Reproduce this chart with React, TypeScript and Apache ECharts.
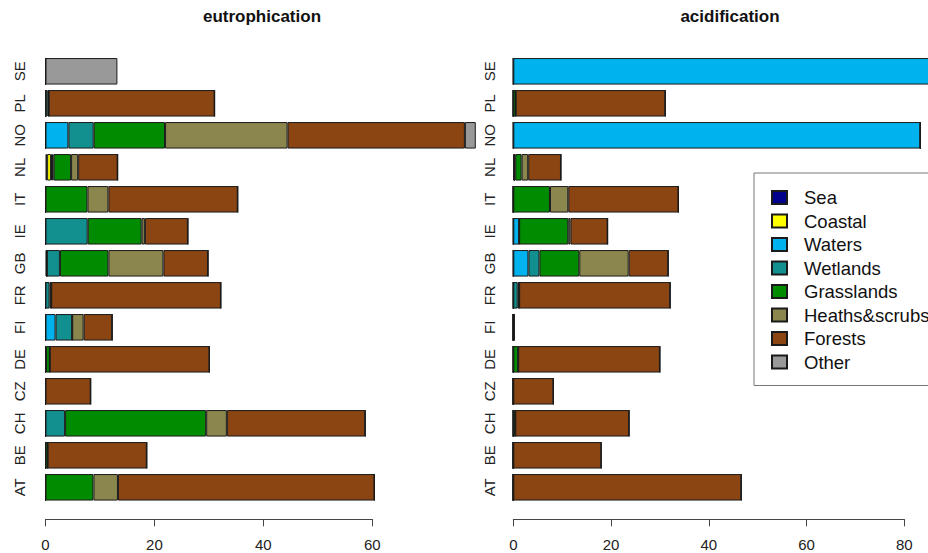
import React, { useEffect, useRef } from "react";
import * as echarts from "echarts";

const categories = ["AT", "BE", "CH", "CZ", "DE", "FI", "FR", "GB", "IE", "IT", "NL", "NO", "PL", "SE"];
const habitats = ["Sea", "Coastal", "Waters", "Wetlands", "Grasslands", "Heaths&scrubs", "Forests", "Other"];
const habitatColors = ["#00008B", "#FFFF00", "#00B2EE", "#12908F", "#008B00", "#8B864E", "#8B4513", "#999999"];
const xTicksLeft = { min: 0, max: 60, interval: 20 };
const xTicksRight = { min: 0, max: 80, interval: 20 };

// eutrophication (order: AT .. SE)
const eutSea = [0, 0, 0, 0, 0, 0, 0, 0.25, 0, 0, 0.3, 0, 0, 0];
const eutCoastal = [0, 0, 0, 0, 0, 0, 0, 0, 0, 0, 0.7, 0, 0, 0];
const eutWaters = [0, 0, 0, 0, 0, 1.85, 0, 0, 0, 0, 0.2, 4.2, 0, 0];
const eutWetlands = [0, 0, 3.6, 0, 0.1, 3.05, 0.75, 2.4, 7.75, 0, 0.3, 4.65, 0.35, 0];
const eutGrasslands = [8.8, 0.4, 25.9, 0, 0.7, 0, 0.3, 8.9, 9.9, 7.7, 3.2, 13.1, 0.25, 0];
const eutHeaths = [4.5, 0, 3.8, 0, 0, 2.1, 0, 10.1, 0.6, 3.85, 1.3, 22.5, 0, 0];
const eutForests = [47.1, 18.2, 25.4, 8.3, 29.3, 5.25, 31.15, 8.2, 7.9, 23.75, 7.25, 32.55, 30.45, 0];
const eutOther = [0, 0, 0, 0, 0, 0, 0, 0, 0, 0, 0, 2.0, 0, 13.2];

// acidification (order: AT .. SE)
const acidSea = [0, 0, 0, 0, 0, 0, 0, 0, 0, 0, 0.2, 0, 0, 0];
const acidCoastal = [0, 0, 0, 0, 0, 0, 0, 0, 0, 0, 0, 0, 0, 0];
const acidWaters = [0, 0, 0, 0, 0, 0, 0, 3.1, 1.2, 0, 0, 83.3, 0, 86];
const acidWetlands = [0, 0, 0, 0, 0, 0, 0.9, 2.25, 0, 0, 0.2, 0, 0, 0];
const acidGrasslands = [0, 0, 0.4, 0, 1.0, 0, 0.3, 8.15, 10.05, 7.5, 1.3, 0, 0.5, 0];
const acidHeaths = [0, 0, 0, 0, 0, 0, 0, 10.1, 0.45, 3.75, 1.35, 0, 0, 0];
const acidForests = [46.65, 18.0, 23.3, 8.2, 29.0, 0.2, 30.9, 8.1, 7.6, 22.55, 6.7, 0, 30.6, 0];
const acidOther = [0, 0, 0, 0, 0, 0, 0, 0, 0, 0, 0, 0, 0, 0];

const eutData = [eutSea, eutCoastal, eutWaters, eutWetlands, eutGrasslands, eutHeaths, eutForests, eutOther];
const acidData = [acidSea, acidCoastal, acidWaters, acidWetlands, acidGrasslands, acidHeaths, acidForests, acidOther];

const FONT = "'Liberation Sans', Arial, Helvetica, sans-serif";

export default function App() {
  const ref = useRef<HTMLDivElement>(null);
  useEffect(() => {
    if (!ref.current) return;
    const chart = echarts.init(ref.current, undefined, { renderer: "svg" });

    const series: any[] = [];
    habitats.forEach((name, i) => {
      const common = {
        name,
        type: "bar",
        barWidth: 26.5,
        clip: false,
        itemStyle: { color: habitatColors[i], borderColor: "#1a1a1a", borderWidth: 1 },
        emphasis: { disabled: true },
      };
      series.push({ ...common, stack: "eut", xAxisIndex: 0, yAxisIndex: 0, data: eutData[i] });
      series.push({ ...common, stack: "acid", xAxisIndex: 1, yAxisIndex: 1, data: acidData[i] });
    });

    const xAxisBase = (t: { min: number; max: number; interval: number }, gridIndex: number) => ({
      type: "value",
      gridIndex,
      min: t.min,
      max: t.max,
      interval: t.interval,
      offset: 16,
      axisLine: { show: true, lineStyle: { color: "#444", width: 1 } },
      axisTick: { show: true, length: 7, lineStyle: { color: "#444", width: 1 } },
      axisLabel: { margin: 18, fontSize: 15, color: "#222", fontFamily: FONT },
      splitLine: { show: false },
    });

    const yAxisBase = (gridIndex: number, margin: number) => ({
      type: "category",
      gridIndex,
      data: categories,
      axisLine: { show: false },
      axisTick: { show: false },
      axisLabel: { rotate: 90, margin, fontSize: 15, color: "#222", fontFamily: FONT },
      splitLine: { show: false },
    });

    chart.setOption({
      animation: false,
      backgroundColor: "#ffffff",
      title: [
        {
          text: "eutrophication",
          left: 257,
          top: 3,
          textAlign: "center",
          textStyle: { fontSize: 17, fontWeight: "bold", color: "#111", fontFamily: FONT },
        },
        {
          text: "acidification",
          left: 725,
          top: 3,
          textAlign: "center",
          textStyle: { fontSize: 17, fontWeight: "bold", color: "#111", fontFamily: FONT },
        },
      ],
      grid: [
        { left: 45.5, top: 55.3, width: 326.8, height: 448 },
        { left: 513.3, top: 55.3, width: 391, height: 448 },
      ],
      xAxis: [xAxisBase(xTicksLeft, 0), xAxisBase(xTicksRight, 1)],
      yAxis: [yAxisBase(0, 19), yAxisBase(1, 16)],
      legend: {
        orient: "vertical",
        left: 754,
        top: 173,
        padding: [15, 40, 14, 17],
        itemWidth: 15,
        itemHeight: 13,
        itemGap: 4.5,
        icon: "rect",
        selectedMode: false,
        borderColor: "#777",
        borderWidth: 1,
        backgroundColor: "#fff",
        data: habitats,
        textStyle: { fontSize: 18.5, lineHeight: 18.5, color: "#111", fontFamily: FONT, padding: [0, 0, 0, 12] },
      },
      series,
    });

    return () => chart.dispose();
  }, []);

  return (
    <div
      ref={ref}
      style={{ position: "fixed", left: 0, top: 0, width: 928, height: 553, background: "#fff" }}
    />
  );
}
